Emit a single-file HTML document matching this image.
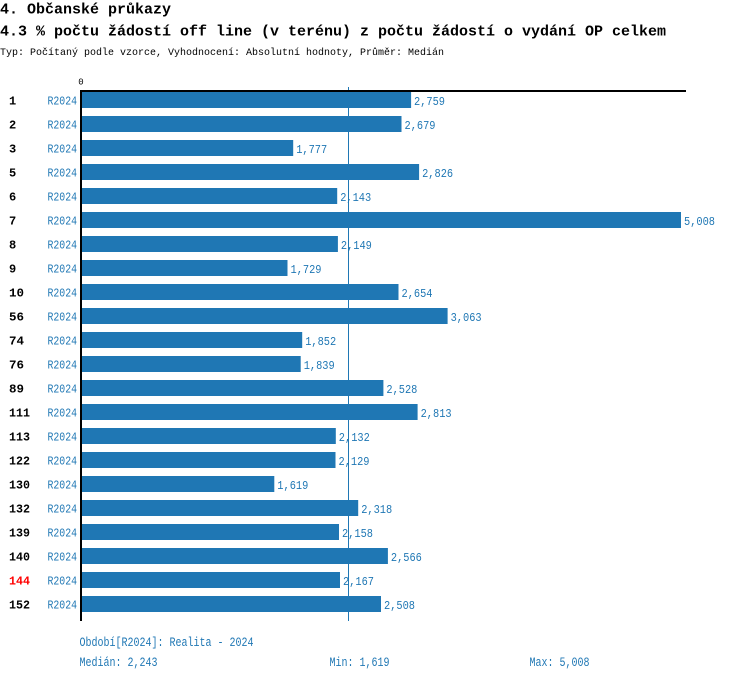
<!DOCTYPE html>
<html><head><meta charset="utf-8"><style>
html,body{margin:0;padding:0;background:#fff;}
svg{display:block;}
text{font-family:"Liberation Mono",monospace;}
.t{font-weight:bold;fill:#000;}
.rl{font-size:12px;font-weight:bold;fill:#000;}
.rr{font-size:12px;fill:#1f77b4;}
.v{font-size:12px;fill:#1f77b4;}
.f{font-size:12.5px;fill:#1f77b4;}
</style></head><body>
<svg width="750" height="680" viewBox="0 0 750 680" xmlns="http://www.w3.org/2000/svg">
<text class="t" x="0" y="13.5" font-size="15">4. Občanské průkazy</text>
<text class="t" x="0" y="35.5" font-size="15" textLength="666" lengthAdjust="spacingAndGlyphs">4.3 % počtu žádostí off line (v terénu) z počtu žádostí o vydání OP celkem</text>
<text x="0" y="55" font-size="10.5" fill="#000" textLength="444" lengthAdjust="spacingAndGlyphs">Typ: Počítaný podle vzorce, Vyhodnocení: Absolutní hodnoty, Průměr: Medián</text>
<text x="81" y="84.5" font-size="9" fill="#000" text-anchor="middle">0</text>

<g fill="#1f77b4">
<rect x="80" y="92" width="331.1" height="16"/>
<rect x="80" y="116" width="321.5" height="16"/>
<rect x="80" y="140" width="213.2" height="16"/>
<rect x="80" y="164" width="339.1" height="16"/>
<rect x="80" y="188" width="257.2" height="16"/>
<rect x="80" y="212" width="601" height="16"/>
<rect x="80" y="236" width="257.9" height="16"/>
<rect x="80" y="260" width="207.5" height="16"/>
<rect x="80" y="284" width="318.5" height="16"/>
<rect x="80" y="308" width="367.6" height="16"/>
<rect x="80" y="332" width="222.2" height="16"/>
<rect x="80" y="356" width="220.7" height="16"/>
<rect x="80" y="380" width="303.4" height="16"/>
<rect x="80" y="404" width="337.6" height="16"/>
<rect x="80" y="428" width="255.8" height="16"/>
<rect x="80" y="452" width="255.5" height="16"/>
<rect x="80" y="476" width="194.3" height="16"/>
<rect x="80" y="500" width="278.2" height="16"/>
<rect x="80" y="524" width="259" height="16"/>
<rect x="80" y="548" width="307.9" height="16"/>
<rect x="80" y="572" width="260" height="16"/>
<rect x="80" y="596" width="301" height="16"/>
</g>

<rect x="348" y="87" width="1" height="534" fill="#1f77b4"/>
<rect x="80" y="90" width="606" height="2" fill="#000"/>
<rect x="80" y="90" width="2" height="531" fill="#000"/>

<g>
<text class="rl" x="9" y="104.5">1</text>
<text class="rl" x="9" y="128.5">2</text>
<text class="rl" x="9" y="152.5">3</text>
<text class="rl" x="9" y="176.5">5</text>
<text class="rl" x="9" y="200.5">6</text>
<text class="rl" x="9" y="224.5">7</text>
<text class="rl" x="9" y="248.5">8</text>
<text class="rl" x="9" y="272.5">9</text>
<text class="rl" x="9" y="296.5" textLength="15" lengthAdjust="spacingAndGlyphs">10</text>
<text class="rl" x="9" y="320.5" textLength="15" lengthAdjust="spacingAndGlyphs">56</text>
<text class="rl" x="9" y="344.5" textLength="15" lengthAdjust="spacingAndGlyphs">74</text>
<text class="rl" x="9" y="368.5" textLength="15" lengthAdjust="spacingAndGlyphs">76</text>
<text class="rl" x="9" y="392.5" textLength="15" lengthAdjust="spacingAndGlyphs">89</text>
<text class="rl" x="9" y="416.5" textLength="21" lengthAdjust="spacingAndGlyphs">111</text>
<text class="rl" x="9" y="440.5" textLength="21" lengthAdjust="spacingAndGlyphs">113</text>
<text class="rl" x="9" y="464.5" textLength="21" lengthAdjust="spacingAndGlyphs">122</text>
<text class="rl" x="9" y="488.5" textLength="21" lengthAdjust="spacingAndGlyphs">130</text>
<text class="rl" x="9" y="512.5" textLength="21" lengthAdjust="spacingAndGlyphs">132</text>
<text class="rl" x="9" y="536.5" textLength="21" lengthAdjust="spacingAndGlyphs">139</text>
<text class="rl" x="9" y="560.5" textLength="21" lengthAdjust="spacingAndGlyphs">140</text>
<text class="rl" x="9" y="584.5" textLength="21" lengthAdjust="spacingAndGlyphs" style="fill:#ff0000">144</text>
<text class="rl" x="9" y="608.5" textLength="21" lengthAdjust="spacingAndGlyphs">152</text>
</g>

<g>
<text class="rr" x="47.5" y="104.5" textLength="29.5" lengthAdjust="spacingAndGlyphs">R2024</text>
<text class="rr" x="47.5" y="128.5" textLength="29.5" lengthAdjust="spacingAndGlyphs">R2024</text>
<text class="rr" x="47.5" y="152.5" textLength="29.5" lengthAdjust="spacingAndGlyphs">R2024</text>
<text class="rr" x="47.5" y="176.5" textLength="29.5" lengthAdjust="spacingAndGlyphs">R2024</text>
<text class="rr" x="47.5" y="200.5" textLength="29.5" lengthAdjust="spacingAndGlyphs">R2024</text>
<text class="rr" x="47.5" y="224.5" textLength="29.5" lengthAdjust="spacingAndGlyphs">R2024</text>
<text class="rr" x="47.5" y="248.5" textLength="29.5" lengthAdjust="spacingAndGlyphs">R2024</text>
<text class="rr" x="47.5" y="272.5" textLength="29.5" lengthAdjust="spacingAndGlyphs">R2024</text>
<text class="rr" x="47.5" y="296.5" textLength="29.5" lengthAdjust="spacingAndGlyphs">R2024</text>
<text class="rr" x="47.5" y="320.5" textLength="29.5" lengthAdjust="spacingAndGlyphs">R2024</text>
<text class="rr" x="47.5" y="344.5" textLength="29.5" lengthAdjust="spacingAndGlyphs">R2024</text>
<text class="rr" x="47.5" y="368.5" textLength="29.5" lengthAdjust="spacingAndGlyphs">R2024</text>
<text class="rr" x="47.5" y="392.5" textLength="29.5" lengthAdjust="spacingAndGlyphs">R2024</text>
<text class="rr" x="47.5" y="416.5" textLength="29.5" lengthAdjust="spacingAndGlyphs">R2024</text>
<text class="rr" x="47.5" y="440.5" textLength="29.5" lengthAdjust="spacingAndGlyphs">R2024</text>
<text class="rr" x="47.5" y="464.5" textLength="29.5" lengthAdjust="spacingAndGlyphs">R2024</text>
<text class="rr" x="47.5" y="488.5" textLength="29.5" lengthAdjust="spacingAndGlyphs">R2024</text>
<text class="rr" x="47.5" y="512.5" textLength="29.5" lengthAdjust="spacingAndGlyphs">R2024</text>
<text class="rr" x="47.5" y="536.5" textLength="29.5" lengthAdjust="spacingAndGlyphs">R2024</text>
<text class="rr" x="47.5" y="560.5" textLength="29.5" lengthAdjust="spacingAndGlyphs">R2024</text>
<text class="rr" x="47.5" y="584.5" textLength="29.5" lengthAdjust="spacingAndGlyphs">R2024</text>
<text class="rr" x="47.5" y="608.5" textLength="29.5" lengthAdjust="spacingAndGlyphs">R2024</text>
</g>

<g>
<text class="v" x="414" y="105" textLength="31" lengthAdjust="spacingAndGlyphs">2,759</text>
<text class="v" x="404.5" y="129" textLength="31" lengthAdjust="spacingAndGlyphs">2,679</text>
<text class="v" x="296.2" y="153" textLength="31" lengthAdjust="spacingAndGlyphs">1,777</text>
<text class="v" x="422.1" y="177" textLength="31" lengthAdjust="spacingAndGlyphs">2,826</text>
<text class="v" x="340.2" y="201" textLength="31" lengthAdjust="spacingAndGlyphs">2,143</text>
<text class="v" x="684" y="225" textLength="31" lengthAdjust="spacingAndGlyphs">5,008</text>
<text class="v" x="340.9" y="249" textLength="31" lengthAdjust="spacingAndGlyphs">2,149</text>
<text class="v" x="290.5" y="273" textLength="31" lengthAdjust="spacingAndGlyphs">1,729</text>
<text class="v" x="401.5" y="297" textLength="31" lengthAdjust="spacingAndGlyphs">2,654</text>
<text class="v" x="450.6" y="321" textLength="31" lengthAdjust="spacingAndGlyphs">3,063</text>
<text class="v" x="305.2" y="345" textLength="31" lengthAdjust="spacingAndGlyphs">1,852</text>
<text class="v" x="303.7" y="369" textLength="31" lengthAdjust="spacingAndGlyphs">1,839</text>
<text class="v" x="386.4" y="393" textLength="31" lengthAdjust="spacingAndGlyphs">2,528</text>
<text class="v" x="420.6" y="417" textLength="31" lengthAdjust="spacingAndGlyphs">2,813</text>
<text class="v" x="338.8" y="441" textLength="31" lengthAdjust="spacingAndGlyphs">2,132</text>
<text class="v" x="338.5" y="465" textLength="31" lengthAdjust="spacingAndGlyphs">2,129</text>
<text class="v" x="277.3" y="489" textLength="31" lengthAdjust="spacingAndGlyphs">1,619</text>
<text class="v" x="361.2" y="513" textLength="31" lengthAdjust="spacingAndGlyphs">2,318</text>
<text class="v" x="342" y="537" textLength="31" lengthAdjust="spacingAndGlyphs">2,158</text>
<text class="v" x="390.9" y="561" textLength="31" lengthAdjust="spacingAndGlyphs">2,566</text>
<text class="v" x="343" y="585" textLength="31" lengthAdjust="spacingAndGlyphs">2,167</text>
<text class="v" x="384" y="609" textLength="31" lengthAdjust="spacingAndGlyphs">2,508</text>
</g>

<text class="f" x="79.5" y="646" textLength="174" lengthAdjust="spacingAndGlyphs">Období[R2024]: Realita - 2024</text>
<text class="f" x="79.5" y="666" textLength="78" lengthAdjust="spacingAndGlyphs">Medián: 2,243</text>
<text class="f" x="329.5" y="666" textLength="60" lengthAdjust="spacingAndGlyphs">Min: 1,619</text>
<text class="f" x="529.5" y="666" textLength="60" lengthAdjust="spacingAndGlyphs">Max: 5,008</text>
</svg>
</body></html>
